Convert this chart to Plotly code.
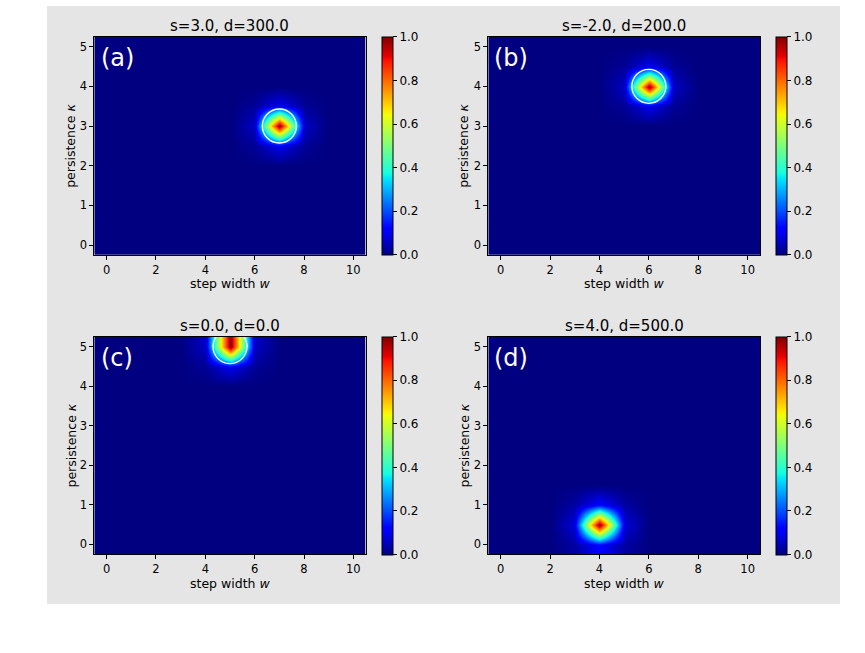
import numpy as np
import plotly.graph_objects as go

# ---------------- data ----------------
panel_labels = ["(a)", "(b)", "(c)", "(d)"]
panel_titles = ["s=3.0, d=300.0", "s=-2.0, d=200.0", "s=0.0, d=0.0", "s=4.0, d=500.0"]
w_vals = [0, 1, 2, 3, 4, 5, 6, 7, 8, 9, 10]
kappa_vals = [0.0, 0.5, 1.0, 1.5, 2.0, 2.5, 3.0, 3.5, 4.0, 4.5, 5.0]
peak_w = [7, 6, 5, 4]
peak_kappa = [3.0, 4.0, 5.0, 0.5]
peak_value = [1.0, 1.0, 1.0, 1.0]
side_w_value = [0.06, 0.06, 0.06, 0.08]      # value at w +/- 1 from peak
side_kappa_value = [0.10, 0.10, 0.10, 0.12]  # value at kappa +/- 0.5 from peak
diag_value = [0.02, 0.02, 0.02, 0.03]        # value at diagonal neighbours
circle_w = [7, 6, 5, None]
circle_kappa = [3.0, 4.0, 5.0, None]
cbar_ticks = [0.0, 0.2, 0.4, 0.6, 0.8, 1.0]
x_ticks = [0, 2, 4, 6, 8, 10]
y_ticks = [0, 1, 2, 3, 4, 5]

# ---------------- colormap (matplotlib 'jet') ----------------
jet_r = [(0, 0), (0.35, 0), (0.66, 1), (0.89, 1), (1, 0.5)]
jet_g = [(0, 0), (0.125, 0), (0.375, 1), (0.64, 1), (0.91, 0), (1, 0)]
jet_b = [(0, 0.5), (0.11, 1), (0.34, 1), (0.65, 0), (1, 0)]
stops = sorted(set([p for p, _ in jet_r + jet_g + jet_b]))


def ch(seg, t):
    return float(np.interp(t, [p for p, _ in seg], [v for _, v in seg]))


jet = [[t, "rgb(%d,%d,%d)" % (round(255 * ch(jet_r, t)), round(255 * ch(jet_g, t)), round(255 * ch(jet_b, t)))]
       for t in stops]

# ---------------- layout geometry (pixels) ----------------
W, H = 865, 653
col_x0 = [94.3, 488.3]
col_x1 = [365.7, 760.0]
row_y0 = [36.7, 336.7]
row_y1 = [255.0, 554.3]
cbar_x = [381.7, 775.7]
ylab_x = [71.0, 464.0]
label_x = [99.0, 492.5]


def fx(p):
    return p / W


def fy(p):
    return 1 - p / H


FONT = "DejaVu Sans"
fig = go.Figure()
annotations = []

for i in range(4):
    r, c = divmod(i, 2)
    ax = "" if i == 0 else str(i + 1)
    xref, yref = "x" + ax, "y" + ax

    # build the grid from the read values
    z = [[0.0 for _ in w_vals] for _ in kappa_vals]
    iw = w_vals.index(peak_w[i])
    ik = kappa_vals.index(peak_kappa[i])
    for dk in (-1, 0, 1):
        for dw in (-1, 0, 1):
            kk, ww = ik + dk, iw + dw
            if 0 <= kk < len(kappa_vals) and 0 <= ww < len(w_vals):
                if dk == 0 and dw == 0:
                    v = peak_value[i]
                elif dk == 0:
                    v = side_w_value[i]
                elif dw == 0:
                    v = side_kappa_value[i]
                else:
                    v = diag_value[i]
                z[kk][ww] = v

    cy = (row_y0[r] + row_y1[r]) / 2
    fig.add_trace(go.Heatmap(
        x=w_vals, y=kappa_vals, z=z, zmin=0, zmax=1, zsmooth="best",
        colorscale=jet, xaxis=xref, yaxis=yref, hoverinfo="skip",
        colorbar=dict(
            x=fx(cbar_x[c]), xanchor="left", y=fy(cy), yanchor="middle",
            len=row_y1[r] - row_y0[r], lenmode="pixels", thickness=11, thicknessmode="pixels",
            xpad=0, ypad=0, outlinewidth=1, outlinecolor="black",
            tickvals=cbar_ticks, ticktext=["%.1f" % t for t in cbar_ticks],
            ticks="outside", ticklen=4, tickwidth=1, tickcolor="black",
            tickfont=dict(family=FONT, size=12, color="black"),
        ),
    ))
    if circle_w[i] is not None:
        fig.add_trace(go.Scatter(
            x=[circle_w[i]], y=[circle_kappa[i]], mode="markers",
            marker=dict(symbol="circle-open", size=34, color="white", line=dict(width=1.3)),
            xaxis=xref, yaxis=yref, hoverinfo="skip", showlegend=False,
        ))

    axis_common = dict(showline=True, mirror=True, linecolor="black", linewidth=1,
                       ticks="outside", ticklen=4, tickwidth=1, tickcolor="black",
                       showgrid=False, zeroline=False,
                       tickfont=dict(family=FONT, size=11.5, color="black"))
    fig.update_layout(**{
        "xaxis" + ax: dict(domain=[fx(col_x0[c]), fx(col_x1[c])], range=[-0.5, 10.5],
                           tickvals=x_ticks, anchor=yref, **axis_common),
        "yaxis" + ax: dict(domain=[fy(row_y1[r]), fy(row_y0[r])], range=[-0.25, 5.25],
                           tickvals=y_ticks, anchor=xref, **axis_common),
    })

    xc = (col_x0[c] + col_x1[c]) / 2
    annotations.append(dict(text=panel_titles[i], x=fx(xc), y=fy(row_y0[r] - 10.5),
                            xref="paper", yref="paper", showarrow=False,
                            xanchor="center", yanchor="middle",
                            font=dict(family=FONT, size=15, color="black")))
    annotations.append(dict(text="step width <i>w</i>", x=fx(xc), y=fy(row_y1[r] + 29),
                            xref="paper", yref="paper", showarrow=False,
                            xanchor="center", yanchor="middle",
                            font=dict(family=FONT, size=12.5, color="black")))
    annotations.append(dict(text="persistence <i>κ</i>", x=fx(ylab_x[c]), y=fy(cy),
                            xref="paper", yref="paper", showarrow=False, textangle=-90,
                            xanchor="center", yanchor="middle",
                            font=dict(family=FONT, size=12.5, color="black")))
    annotations.append(dict(text=panel_labels[i], x=fx(label_x[c]), y=fy(row_y0[r] + 21),
                            xref="paper", yref="paper", showarrow=False,
                            xanchor="left", yanchor="middle",
                            font=dict(family=FONT, size=24, color="white")))

fig.update_layout(
    width=W, height=H, margin=dict(l=0, r=0, t=0, b=0),
    paper_bgcolor="white", plot_bgcolor="rgba(0,0,0,0)",
    showlegend=False, annotations=annotations,
    shapes=[dict(type="rect", xref="paper", yref="paper",
                 x0=fx(47), x1=fx(840), y0=fy(604), y1=fy(6),
                 fillcolor="#e5e5e5", line=dict(width=0), layer="below")],
)

fig.write_html("out.html")
